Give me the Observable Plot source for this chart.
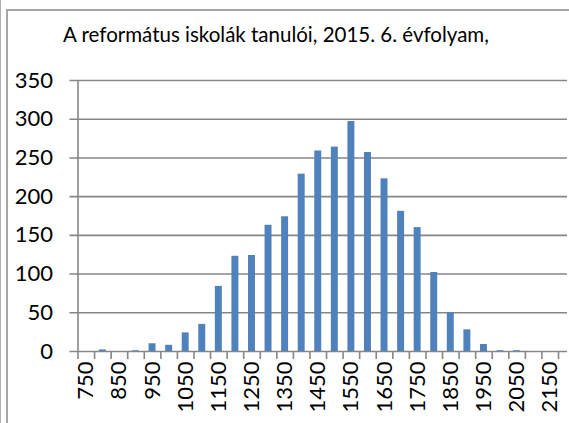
<!DOCTYPE html>
<html><head><meta charset="utf-8">
<script src="https://cdn.jsdelivr.net/npm/d3@7"></script>
<script src="https://cdn.jsdelivr.net/npm/@observablehq/plot@0.6"></script>
<style>
body{margin:0;background:#fff;width:569px;height:423px;overflow:hidden;position:relative;font-family:Lato,"Open Sans",sans-serif;}
#outer{position:absolute;left:0;top:0;width:1px;height:423px;background:#b0b0b0;}
#frame{position:absolute;left:6px;top:9px;width:600px;height:500px;border-left:2px solid #a6a6a6;border-top:2px solid #a6a6a6;}
#title{position:absolute;left:-24px;width:600px;top:22px;text-align:center;font-size:20.5px;color:#000;}
#chart{position:absolute;left:0;top:0;}
</style></head>
<body>
<div id="outer"></div><div id="frame"></div>
<div id="title">A református iskolák tanulói, 2015. 6. évfolyam,</div>
<div id="chart"></div>
<script>
const categories = [750,800,850,900,950,1000,1050,1100,1150,1200,1250,1300,1350,1400,1450,1500,1550,1600,1650,1700,1750,1800,1850,1900,1950,2000,2050,2100,2150];
const counts = [0,2,0,1,10,8,24,35,84,123,124,163,174,229,259,264,297,257,223,181,160,102,50,28,9,1,1,0,0];
const yTicks = [0,50,100,150,200,250,300,350];
const xTickLabels = categories.filter((d,i)=>i%2===0);

const data = categories.map((c,i)=>({c, v: counts[i]}));
const W = 569, mL = 77.5, mR = 11;
const step = (W - mL - mR) / categories.length;
const grid = "#868686";

const chart = Plot.plot({
  width: W, height: 423,
  marginTop: 80, marginBottom: 72, marginLeft: mL, marginRight: mR,
  style: {fontFamily: "Lato, 'Open Sans', sans-serif", background: "transparent", overflow: "visible"},
  x: {type: "band", domain: categories, paddingInner: 0.58, paddingOuter: 0.29, align: 0.5, round: false},
  y: {domain: [0, 350], ticks: yTicks},
  marks: [
    Plot.ruleY(yTicks, {y: d=>d, stroke: grid, strokeWidth: 1.6, insetLeft: -8, insetRight: -9}),
    Plot.barY(data, {x: "c", y: "v", fill: "#4F81BD"}),
    Plot.ruleX([categories[0]], {x: d=>d, y1: 0, y2: 350, dx: -step/2, stroke: grid, strokeWidth: 1.6}),
    Plot.ruleX(categories, {x: d=>d, y1: 0, y2: 0, insetBottom: -8, dx: -step/2, stroke: grid, strokeWidth: 1.6}),
    Plot.ruleX([categories[categories.length-1]], {x: d=>d, y1: 0, y2: 0, insetBottom: -8, dx: step/2, stroke: grid, strokeWidth: 1.6}),
    Plot.axisY({ticks: yTicks, tickSize: 0, tickPadding: 25, fontSize: 22, label: null, fill: "#000", tickFormat: d=>String(d)}),
    Plot.axisX({ticks: xTickLabels, tickSize: 0, tickPadding: 10, tickRotate: -90, fontSize: 22, label: null, fill: "#000", tickFormat: d=>String(d)})
  ]
});
document.getElementById("chart").appendChild(chart);
</script>
</body></html>
